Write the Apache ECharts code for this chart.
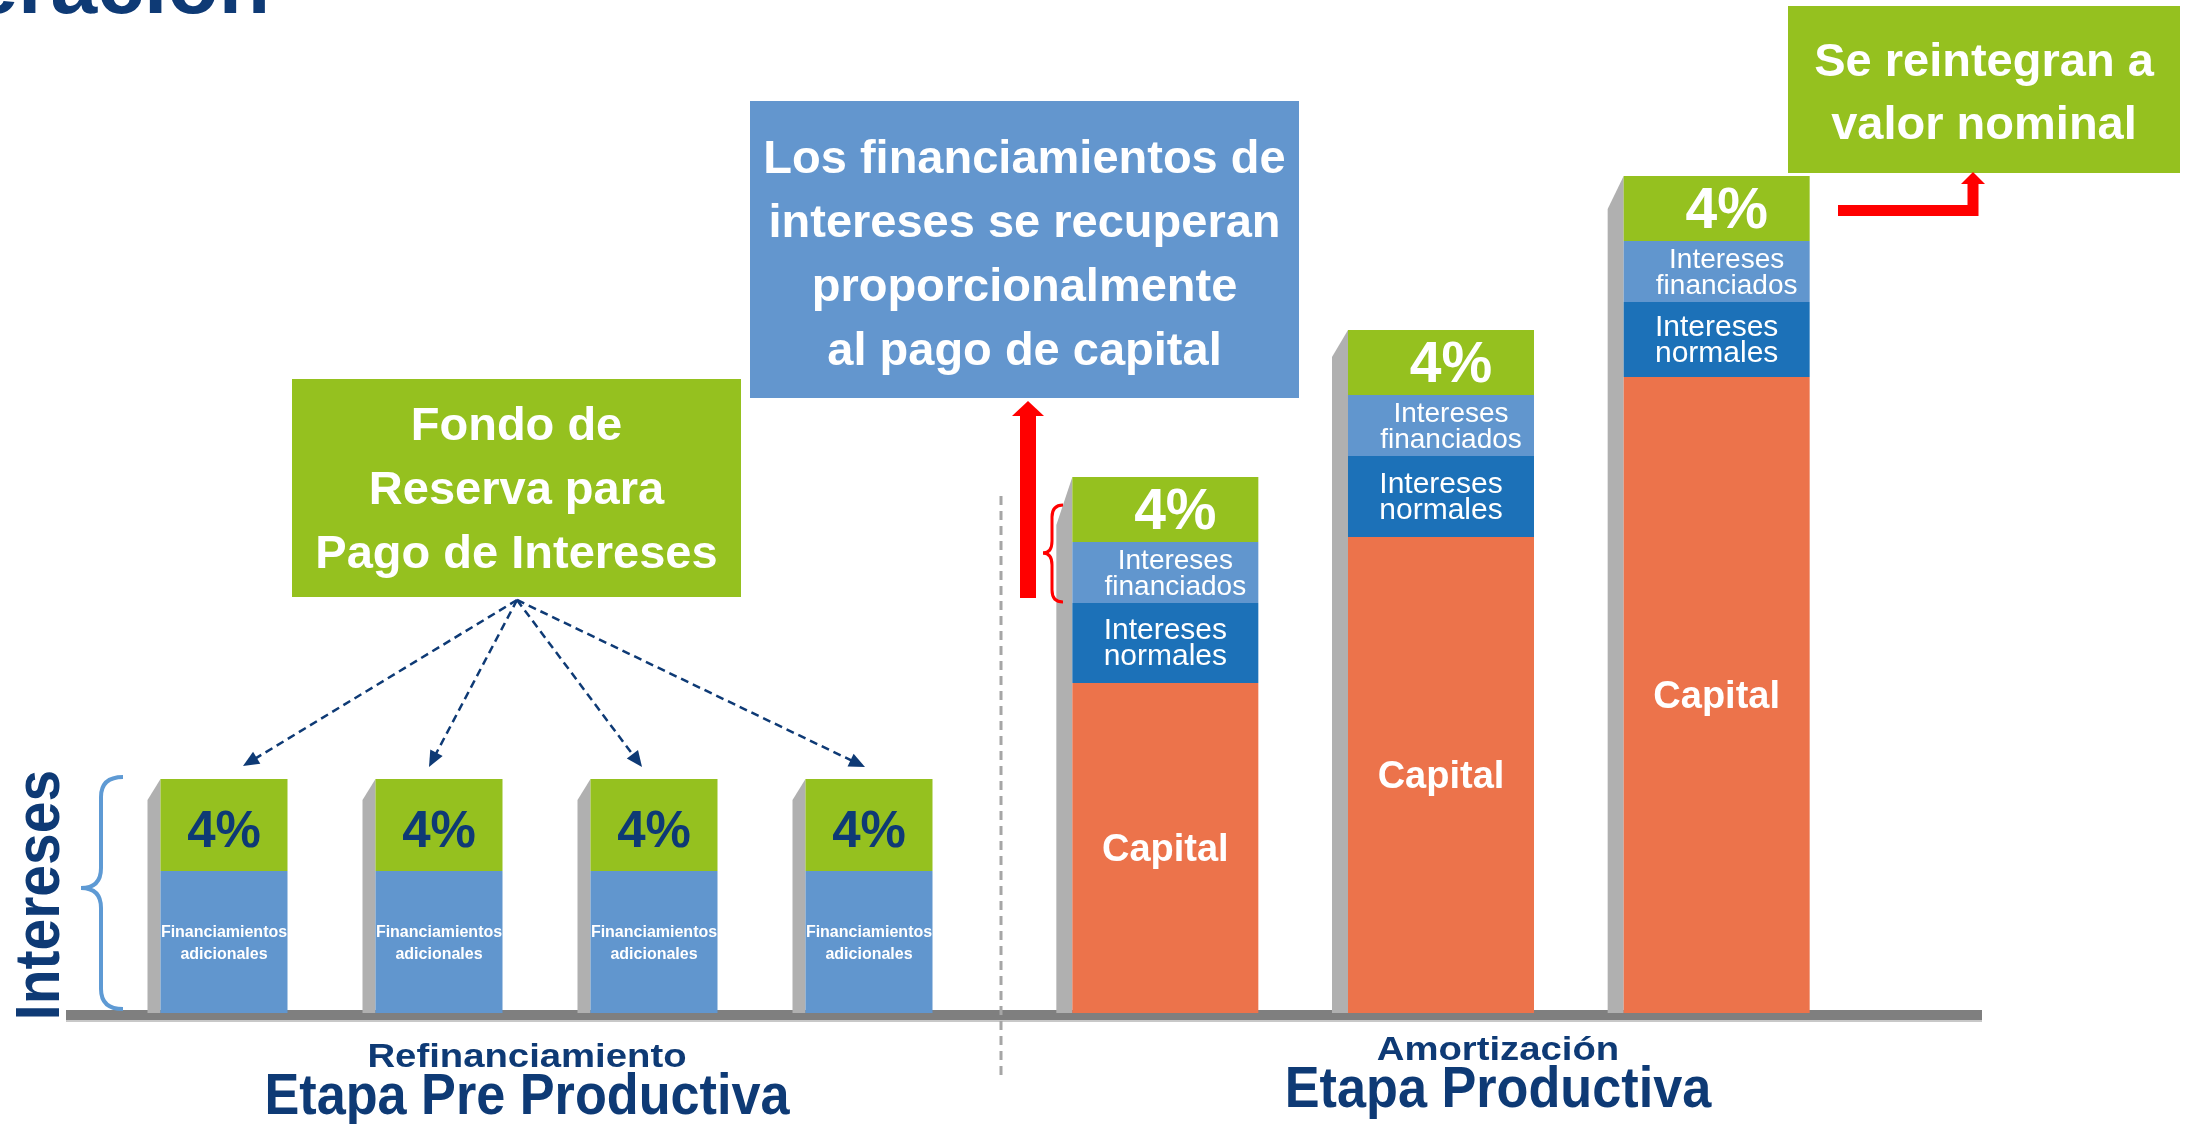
<!DOCTYPE html>
<html>
<head>
<meta charset="utf-8">
<script src="https://cdn.jsdelivr.net/npm/echarts@6/dist/echarts.min.js"></script>
<style>
html,body{margin:0;padding:0;background:#fff;}
#c{width:2192px;height:1124px;}
</style>
</head>
<body>
<div id="c"></div>
<script>
// ---------- DATA ----------
const preCategories = ['Periodo 1', 'Periodo 2', 'Periodo 3', 'Periodo 4'];
const preFinanciamientos = [14.2, 14.2, 14.2, 14.2];   // Financiamientos adicionales
const preInteres = [9.2, 9.2, 9.2, 9.2];               // 4%
const preInteresLabels = ['4%', '4%', '4%', '4%'];

const prodCategories = ['Pago 1', 'Pago 2', 'Pago 3'];
const prodCapital = [33.0, 47.6, 63.6];
const prodNormales = [8.0, 8.1, 7.5];
const prodFinanciados = [6.1, 6.1, 6.1];
const prodInteres = [6.5, 6.5, 6.5];
const prodInteresLabels = ['4%', '4%', '4%'];

// ---------- STYLE ----------
const FONT = "'Liberation Sans', Arial, sans-serif";
const NAVY = '#0E3A75';
const GREEN = '#95C11F';
const LBLUE = '#6196CE';
const DBLUE = '#1C71B8';
const ORANGE = '#EC734B';
const SIDE = '#B0B0B0';
const PRE_BAR_W = 127, PROD_BAR_W = 186;
const PRE_SIDE = {w: 13, slant: [21, 21, 21, 21]};
const PROD_SIDE = {w: 16, slant: [48, 27, 33]};

const preTotals = preFinanciamientos.map((v, i) => v + preInteres[i]);
const prodTotals = prodCapital.map((v, i) => v + prodNormales[i] + prodFinanciados[i] + prodInteres[i]);

function sideRenderer(barW, side) {
  return function (params, api) {
    const idx = api.value(0);
    const top = api.coord([idx, api.value(1)]);
    const bot = api.coord([idx, 0]);
    const xr = top[0] - barW / 2;
    const xl = xr - side.w;
    const s = side.slant[params.dataIndex];
    return {
      type: 'polygon',
      shape: {points: [[xl, top[1] + s], [xr, top[1]], [xr, bot[1]], [xl, bot[1]]]},
      style: {fill: SIDE}
    };
  };
}

function arrowHead(x0, y0, x1, y1, len, half, color) {
  const dx = x1 - x0, dy = y1 - y0, L = Math.hypot(dx, dy);
  const ux = dx / L, uy = dy / L;
  const bx = x1 - ux * len, by = y1 - uy * len;
  return {
    type: 'polygon', z: 20,
    shape: {points: [[x1, y1], [bx - uy * half, by + ux * half], [bx + uy * half, by - ux * half]]},
    style: {fill: color}
  };
}

// curly brace opening to the right: tip at xTip, spine at xSpine, ends at xEnd
function brace(xEnd, xSpine, xTip, yTop, yMid, yBot, r, color, w) {
  const st = {stroke: color, lineWidth: w, fill: null};
  const q = (x1, y1, cx, cy, x2, y2) => ({type: 'bezierCurve', z: 20, shape: {x1, y1, cpx1: cx, cpy1: cy, x2, y2}, style: st});
  const l = (x1, y1, x2, y2) => ({type: 'line', z: 20, shape: {x1, y1, x2, y2}, style: st});
  return [
    q(xEnd, yTop, xSpine, yTop, xSpine, yTop + r),
    l(xSpine, yTop + r, xSpine, yMid - r),
    q(xSpine, yMid - r, xSpine, yMid, xTip, yMid),
    q(xTip, yMid, xSpine, yMid, xSpine, yMid + r),
    l(xSpine, yMid + r, xSpine, yBot - r),
    q(xSpine, yBot - r, xSpine, yBot, xEnd, yBot)
  ];
}

const fundStart = [517, 600];
const fundTargets = [[243, 766], [429, 767], [642, 767], [865, 767]];
const graphics = [];

// baseline axis bar
graphics.push({type: 'rect', z: 0, shape: {x: 66, y: 1010, width: 1916, height: 10}, style: {fill: '#7F7F7F'}});
graphics.push({type: 'rect', z: 0, shape: {x: 66, y: 1020, width: 1916, height: 2}, style: {fill: '#C8C8C8'}});

// partial title at top (only its lower edge is inside the picture)
graphics.push({type: 'text', z: 20, x: 270, y: 32, style: {text: 'Operación', font: "bold 84px " + FONT, fill: NAVY, align: 'right', verticalAlign: 'bottom'}});

// vertical "Intereses"
graphics.push({type: 'text', z: 20, x: 41, y: 895, rotation: Math.PI / 2, scaleY: 1.12,
  style: {text: 'Intereses', font: "bold 57px " + FONT, fill: NAVY, align: 'center', verticalAlign: 'middle'}});
// light-blue brace
brace(123, 101, 81, 777, 888, 1009, 20, '#5E9AD4', 4).forEach(g => graphics.push(g));

// dashed separator
graphics.push({type: 'line', z: 20, shape: {x1: 1001, y1: 496, x2: 1001, y2: 1076}, style: {stroke: '#A6A6A6', lineWidth: 3, lineDash: [9, 6]}});

// Fondo de reserva box
graphics.push({type: 'rect', z: 20, shape: {x: 292, y: 379, width: 449, height: 218}, style: {fill: GREEN}});
graphics.push({type: 'text', z: 21, x: 516.5, y: 491, style: {text: 'Fondo de\nReserva para\nPago de Intereses', font: "bold 47px " + FONT, lineHeight: 64, fill: '#fff', align: 'center', verticalAlign: 'middle'}});
fundTargets.forEach(t => {
  const dx = t[0] - fundStart[0], dy = t[1] - fundStart[1], L = Math.hypot(dx, dy);
  graphics.push({type: 'line', z: 20, shape: {x1: fundStart[0], y1: fundStart[1], x2: t[0] - dx / L * 12, y2: t[1] - dy / L * 12},
    style: {stroke: NAVY, lineWidth: 2.5, lineDash: [8, 5]}});
  graphics.push(arrowHead(fundStart[0], fundStart[1], t[0], t[1], 16, 7, NAVY));
});

// blue box
graphics.push({type: 'rect', z: 20, shape: {x: 750, y: 101, width: 549, height: 297}, style: {fill: '#6396CE'}});
graphics.push({type: 'text', z: 21, x: 1024.5, y: 256, style: {text: 'Los financiamientos de\nintereses se recuperan\nproporcionalmente\nal pago de capital', font: "bold 47px " + FONT, lineHeight: 64, fill: '#fff', align: 'center', verticalAlign: 'middle'}});
// red vertical arrow
graphics.push({type: 'rect', z: 20, shape: {x: 1020, y: 414, width: 16, height: 184}, style: {fill: '#FF0000'}});
graphics.push({type: 'polygon', z: 20, shape: {points: [[1012, 416], [1044, 416], [1028, 401]]}, style: {fill: '#FF0000'}});
// red brace
brace(1063, 1052, 1043, 505, 553, 602, 12, '#FF0000', 3).forEach(g => graphics.push(g));

// Se reintegran box
graphics.push({type: 'rect', z: 20, shape: {x: 1788, y: 6, width: 392, height: 167}, style: {fill: GREEN}});
graphics.push({type: 'text', z: 21, x: 1984, y: 95, style: {text: 'Se reintegran a\nvalor nominal', font: "bold 47px " + FONT, lineHeight: 63, fill: '#fff', align: 'center', verticalAlign: 'middle'}});
graphics.push({type: 'polyline', z: 20, shape: {points: [[1838, 210.5], [1973, 210.5], [1973, 182]]}, style: {stroke: '#FF0000', lineWidth: 11, fill: null}});
graphics.push({type: 'polygon', z: 20, shape: {points: [[1961, 184], [1985, 184], [1973, 172]]}, style: {fill: '#FF0000'}});

// bottom labels
graphics.push({type: 'text', z: 20, x: 527, y: 1074, scaleX: 1.16, style: {text: 'Refinanciamiento', font: "bold 33px " + FONT, fill: NAVY, align: 'center', verticalAlign: 'bottom'}});
graphics.push({type: 'text', z: 20, x: 527, y: 1127, scaleX: 0.9, style: {text: 'Etapa Pre Productiva', font: "bold 58px " + FONT, fill: NAVY, align: 'center', verticalAlign: 'bottom'}});
graphics.push({type: 'text', z: 20, x: 1498, y: 1067, scaleX: 1.16, style: {text: 'Amortización', font: "bold 33px " + FONT, fill: NAVY, align: 'center', verticalAlign: 'bottom'}});
graphics.push({type: 'text', z: 20, x: 1498, y: 1120, scaleX: 0.9, style: {text: 'Etapa Productiva', font: "bold 58px " + FONT, fill: NAVY, align: 'center', verticalAlign: 'bottom'}});

const chart = echarts.init(document.getElementById('c'), null, {renderer: 'canvas'});
const lab = (fmt, size, weight, color, lh, off) => ({
  show: true, position: 'inside', formatter: fmt, fontFamily: FONT, fontSize: size, fontWeight: weight,
  color: color, lineHeight: lh, offset: off || [0, 0]
});

chart.setOption({
  animation: false,
  backgroundColor: '#ffffff',
  grid: [
    {left: 116.5, top: 13, width: 860, height: 1000},
    {left: 1027.5, top: 13, width: 827, height: 1000}
  ],
  xAxis: [
    {type: 'category', gridIndex: 0, data: preCategories, show: false},
    {type: 'category', gridIndex: 1, data: prodCategories, show: false}
  ],
  yAxis: [
    {type: 'value', gridIndex: 0, min: 0, max: 100, show: false},
    {type: 'value', gridIndex: 1, min: 0, max: 100, show: false}
  ],
  graphic: graphics,
  series: [
    {type: 'custom', xAxisIndex: 0, yAxisIndex: 0, z: 1, data: preTotals.map((v, i) => [i, v]), renderItem: sideRenderer(PRE_BAR_W, PRE_SIDE)},
    {type: 'custom', xAxisIndex: 1, yAxisIndex: 1, z: 1, data: prodTotals.map((v, i) => [i, v]), renderItem: sideRenderer(PROD_BAR_W, PROD_SIDE)},
    {name: 'Financiamientos adicionales', type: 'bar', stack: 'pre', xAxisIndex: 0, yAxisIndex: 0, barWidth: PRE_BAR_W, z: 3,
      data: preFinanciamientos, itemStyle: {color: LBLUE},
      label: lab('Financiamientos\nadicionales', 16, 'bold', '#fff', 22, [0, 2])},
    {name: 'Interés pre', type: 'bar', stack: 'pre', xAxisIndex: 0, yAxisIndex: 0, barWidth: PRE_BAR_W, z: 3,
      data: preInteres, itemStyle: {color: GREEN},
      label: lab(p => preInteresLabels[p.dataIndex], 51, 'bold', NAVY, 52, [0, 8])},
    {name: 'Capital', type: 'bar', stack: 'prod', xAxisIndex: 1, yAxisIndex: 1, barWidth: PROD_BAR_W, z: 3,
      data: prodCapital, itemStyle: {color: ORANGE},
      label: lab('Capital', 38, 'bold', '#fff', 40, [0, 3])},
    {name: 'Intereses normales', type: 'bar', stack: 'prod', xAxisIndex: 1, yAxisIndex: 1, barWidth: PROD_BAR_W, z: 3,
      data: prodNormales, itemStyle: {color: DBLUE},
      label: lab('Intereses\nnormales', 30, 'normal', '#fff', 26, [0, 1])},
    {name: 'Intereses financiados', type: 'bar', stack: 'prod', xAxisIndex: 1, yAxisIndex: 1, barWidth: PROD_BAR_W, z: 3,
      data: prodFinanciados, itemStyle: {color: LBLUE},
      label: lab('Intereses\nfinanciados', 28, 'normal', '#fff', 26, [10, 2])},
    {name: 'Interés prod', type: 'bar', stack: 'prod', xAxisIndex: 1, yAxisIndex: 1, barWidth: PROD_BAR_W, z: 3,
      data: prodInteres, itemStyle: {color: GREEN},
      label: lab(p => prodInteresLabels[p.dataIndex], 57, 'bold', '#fff', 58, [10, 4])}
  ]
});
</script>
</body>
</html>
